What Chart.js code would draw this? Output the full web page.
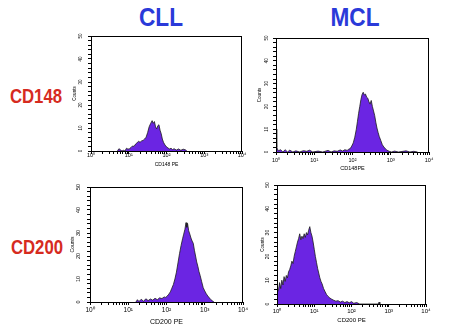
<!DOCTYPE html>
<html>
<head>
<meta charset="utf-8">
<script src="https://cdn.jsdelivr.net/npm/chart.js@4.4.1/dist/chart.umd.min.js"></script>
<style>
html, body { margin: 0; padding: 0; background: #fff; }
body { width: 453px; height: 335px; position: relative; overflow: hidden; font-family: "Liberation Sans", Arial, sans-serif; }
canvas { position: absolute; }
.lbl { position: absolute; font-weight: bold; line-height: 1; white-space: nowrap; transform-origin: center; }
.col { font-size: 26px; color: #2a3ad9; top: 4px; transform: translateX(-50%) scaleX(.87); }
.row { font-size: 19.5px; color: #d62b1f; transform: translateX(-50%) scaleX(.86); }
</style>
</head>
<body>
<div class="lbl col" style="left:161px">CLL</div>
<div class="lbl col" style="left:355px">MCL</div>
<div class="lbl row" style="left:36px;top:87px">CD148</div>
<div class="lbl row" style="left:37px;top:238px">CD200</div>
<canvas id="cllCd148"></canvas>
<canvas id="mclCd148"></canvas>
<canvas id="cllCd200"></canvas>
<canvas id="mclCd200"></canvas>
<script>
// histogram data, x as log10 of PE intensity, y as counts
const decades = [1, 10, 100, 1000, 10000];
const decadeSteps = [1, 2, 3, 4, 5, 6, 7, 8, 9];
const yTickLabels = [0, 10, 20, 30, 40, 50];
const yTicks = [0, 2, 4, 6, 8, 10, 12, 14, 16, 18, 20, 22, 24, 26, 28, 30, 32, 34, 36, 38, 40, 42, 44, 46, 48, 50];

const cllCd148Log = [0.70, 0.74, 0.78, 0.82, 0.86, 0.90, 0.94, 0.98, 1.02, 1.06, 1.10, 1.14, 1.18, 1.22, 1.26, 1.30, 1.34, 1.38, 1.42, 1.46, 1.50, 1.54, 1.58, 1.62, 1.65, 1.68, 1.71, 1.74, 1.77, 1.80, 1.83, 1.86, 1.89, 1.92, 1.96, 2.00, 2.04, 2.08, 2.12, 2.16, 2.20, 2.26, 2.32, 2.38, 2.44, 2.50, 2.54];
const cllCd148Counts = [0, 1, 0.5, 0, 0.3, 0, 1.2, 0.8, 1.0, 1.5, 2.2, 2.0, 3.0, 3.6, 4.2, 3.8, 4.4, 4.6, 5.2, 6.0, 8.0, 10.5, 12.0, 13.2, 12.0, 12.8, 10.5, 9.6, 11.0, 11.4, 9.0, 7.5, 5.2, 3.8, 2.6, 1.8, 1.3, 0.9, 1.2, 0.6, 1.0, 0.4, 0.9, 0.3, 0.8, 0.5, 0];

const mclCd148Log = [0.00, 0.02, 0.06, 0.12, 0.18, 0.24, 0.30, 0.36, 0.44, 0.52, 0.62, 0.72, 0.80, 0.88, 0.96, 1.10, 1.22, 1.36, 1.44, 1.52, 1.60, 1.68, 1.74, 1.80, 1.86, 1.90, 1.94, 1.98, 2.02, 2.06, 2.10, 2.13, 2.16, 2.19, 2.22, 2.25, 2.28, 2.31, 2.34, 2.37, 2.40, 2.43, 2.46, 2.49, 2.52, 2.55, 2.58, 2.61, 2.64, 2.67, 2.70, 2.74, 2.78, 2.82, 2.86, 2.90, 2.96, 3.02, 3.10, 3.20, 3.40, 3.50, 3.60, 3.70];
const mclCd148Counts = [10, 2, 0.5, 1, 0, 1, 0, 0.8, 0, 0.5, 0, 0.6, 0.3, 0.8, 0, 0.4, 0, 0.7, 0, 0.5, 0.3, 0.9, 0.4, 1.0, 0.7, 1.2, 1.5, 2.6, 4.0, 6.5, 10, 13.5, 17, 20, 23, 25.2, 26.2, 25, 25.4, 24, 23.6, 22, 21, 22.6, 20, 18, 16, 13, 10.5, 8.5, 6.8, 5, 3.2, 2.2, 1.4, 0.8, 0.3, 0, 0.4, 0, 0.5, 0, 0.3, 0];

const cllCd200Log = [1.20, 1.24, 1.28, 1.34, 1.40, 1.46, 1.52, 1.58, 1.64, 1.70, 1.76, 1.82, 1.88, 1.94, 1.98, 2.02, 2.06, 2.10, 2.14, 2.18, 2.22, 2.26, 2.30, 2.34, 2.38, 2.42, 2.45, 2.48, 2.51, 2.53, 2.55, 2.58, 2.61, 2.64, 2.67, 2.70, 2.73, 2.76, 2.79, 2.82, 2.85, 2.88, 2.92, 2.96, 3.00, 3.04, 3.08, 3.12, 3.16, 3.20, 3.24];
const cllCd200Counts = [0, 1.0, 0.2, 1.2, 0.3, 1.4, 0.6, 1.3, 0.8, 1.6, 1.0, 1.8, 1.5, 2.2, 2.0, 2.6, 3.4, 4.4, 6.0, 7.6, 10, 13, 17, 21, 24.5, 27.5, 29.5, 31.5, 34.5, 32.5, 34.2, 31, 29.5, 27.8, 26.5, 25.5, 22.5, 20, 17.4, 15.5, 13.2, 11.5, 8.8, 6.2, 4.8, 3.6, 2.6, 1.8, 1.0, 0.5, 0];

const mclCd200Log = [0.00, 0.01, 0.04, 0.07, 0.10, 0.13, 0.16, 0.19, 0.22, 0.25, 0.28, 0.31, 0.34, 0.37, 0.40, 0.43, 0.46, 0.49, 0.52, 0.55, 0.58, 0.61, 0.64, 0.67, 0.70, 0.73, 0.76, 0.79, 0.82, 0.85, 0.88, 0.91, 0.94, 0.97, 1.00, 1.03, 1.06, 1.09, 1.12, 1.15, 1.18, 1.21, 1.25, 1.29, 1.33, 1.37, 1.42, 1.47, 1.52, 1.58, 1.64, 1.70, 1.76, 1.82, 1.88, 1.94, 2.00, 2.06, 2.14, 2.22, 2.72, 2.74, 2.76];
const mclCd200Counts = [0, 5, 6, 9, 6.5, 10, 8, 11.5, 9.5, 12, 11, 13.5, 14.5, 16, 18, 17, 20, 22, 24, 26, 27.5, 29.5, 27, 28.5, 27.5, 29.5, 28, 30, 29, 31, 32.5, 30, 28.5, 26, 23, 20, 17.5, 15, 13, 11, 9.5, 8.5, 6.5, 5.2, 4, 3.2, 2.5, 2.0, 1.6, 1.2, 1.4, 0.8, 1.2, 0.6, 1.0, 0.5, 1.0, 0.3, 0.6, 0, 0, 0.8, 0];

const FONT = '"Liberation Sans", Arial, sans-serif';
const FILL = '#6b25e3';
const YW = 22, XH = 24, PT = 6, PR = 8;
const SUP = ['\u2070', '\u00b9', '\u00b2', '\u00b3', '\u2074'];

const isDecade = v => decades.includes(v);
const decadeLabel = v => isDecade(v) ? '10' + SUP[decades.indexOf(v)] : '';

// log axis tick marks: 1..9 inside each decade, plus the last decade
const xTicks = [];
decades.slice(0, -1).forEach(d => decadeSteps.forEach(s => xTicks.push(d * s)));
xTicks.push(decades[decades.length - 1]);

const frame = {
    id: 'frame',
    afterDraw(chart) {
        const { ctx, chartArea: a } = chart;
        ctx.save();
        ctx.strokeStyle = '#000';
        ctx.lineWidth = 1;
        ctx.strokeRect(a.left + 0.5, a.top + 0.5, a.width - 1, a.height);
        ctx.restore();
    }
};

function makePanel(id, logs, counts, g) {
    const cv = document.getElementById(id);
    const w = g.R - g.L + YW + PR;
    const h = g.B - g.T + PT + XH;
    cv.width = w;
    cv.height = h;
    cv.style.left = (g.L - YW) + 'px';
    cv.style.top = (g.T - PT) + 'px';
    cv.style.width = w + 'px';
    cv.style.height = h + 'px';

    return new Chart(cv, {
        type: 'line',
        data: {
            datasets: [{
                data: logs.map((lx, i) => ({ x: Math.pow(10, lx), y: counts[i] })),
                borderColor: '#1c1c1c',
                borderWidth: 0.8,
                backgroundColor: FILL,
                fill: 'origin',
                pointRadius: 0,
                tension: 0
            }]
        },
        options: {
            responsive: false,
            animation: false,
            devicePixelRatio: 1,
            layout: { padding: { top: PT, right: PR, left: 0, bottom: 0 } },
            plugins: { legend: { display: false }, tooltip: { enabled: false } },
            scales: {
                x: {
                    type: 'logarithmic',
                    min: 1,
                    max: 10000,
                    afterBuildTicks(s) { s.ticks = xTicks.map(v => ({ value: v, major: isDecade(v) })); },
                    afterFit(s) { s.height = XH; s.paddingLeft = 0; s.paddingRight = 0; },
                    grid: {
                        drawOnChartArea: false,
                        tickLength: 3,
                        tickColor: '#000',
                        tickWidth: 1
                    },
                    border: { display: true, color: '#000', width: 1 },
                    ticks: {
                        autoSkip: false,
                        minRotation: 0,
                        maxRotation: 0,
                        padding: g.xPad,
                        color: '#000',
                        font: { size: g.xTick, family: FONT },
                        callback: v => decadeLabel(v)
                    },
                    title: {
                        display: true,
                        text: g.xTitle,
                        color: '#000',
                        font: { size: g.xTitleSize, family: FONT },
                        padding: { top: 0, bottom: g.xTitlePad }
                    }
                },
                y: {
                    min: 0,
                    max: 50,
                    afterBuildTicks(s) { s.ticks = yTicks.map(v => ({ value: v })); },
                    afterFit(s) { s.width = YW; s.paddingTop = 0; s.paddingBottom = 0; },
                    grid: {
                        drawOnChartArea: false,
                        tickLength: 3,
                        tickColor: '#000',
                        tickWidth: 1
                    },
                    border: { display: true, color: '#000', width: 1 },
                    ticks: {
                        autoSkip: false,
                        minRotation: 90,
                        maxRotation: 90,
                        crossAlign: 'center',
                        padding: g.yPad,
                        color: '#000',
                        font: { size: g.yTick, family: FONT },
                        callback: v => yTickLabels.includes(v) ? String(v) : ''
                    },
                    title: {
                        display: true,
                        text: 'Counts',
                        color: '#000',
                        font: { size: g.yTitleSize, family: FONT },
                        padding: { top: g.yTitlePad, bottom: 0 }
                    }
                }
            }
        },
        plugins: [frame]
    });
}

makePanel('cllCd148', cllCd148Log, cllCd148Counts, {
    L: 91, R: 242, T: 36, B: 151,
    xTick: 5.5, xPad: -1.5, xTitle: 'CD148 PE', xTitleSize: 5, xTitlePad: 7.7,
    yTick: 4.5, yPad: 4.5, yTitleSize: 4.5, yTitlePad: 3.3
});
makePanel('mclCd148', mclCd148Log, mclCd148Counts, {
    L: 276, R: 429, T: 38, B: 152,
    xTick: 5.5, xPad: 2.3, xTitle: 'CD148PE', xTitleSize: 5.5, xTitlePad: 4.2,
    yTick: 4.5, yPad: 3.8, yTitleSize: 4.5, yTitlePad: 3.3
});
makePanel('cllCd200', cllCd200Log, cllCd200Counts, {
    L: 90, R: 243, T: 187, B: 302,
    xTick: 6.5, xPad: 1.4, xTitle: 'CD200 PE', xTitleSize: 7, xTitlePad: 0.1,
    yTick: 5.5, yPad: 5.6, yTitleSize: 5, yTitlePad: 1.7
});
makePanel('mclCd200', mclCd200Log, mclCd200Counts, {
    L: 277, R: 426, T: 185, B: 304,
    xTick: 6, xPad: 0.7, xTitle: 'CD200 PE', xTitleSize: 6, xTitlePad: 4.4,
    yTick: 5, yPad: 3.9, yTitleSize: 4.5, yTitlePad: 4.6
});
</script>
</body>
</html>
